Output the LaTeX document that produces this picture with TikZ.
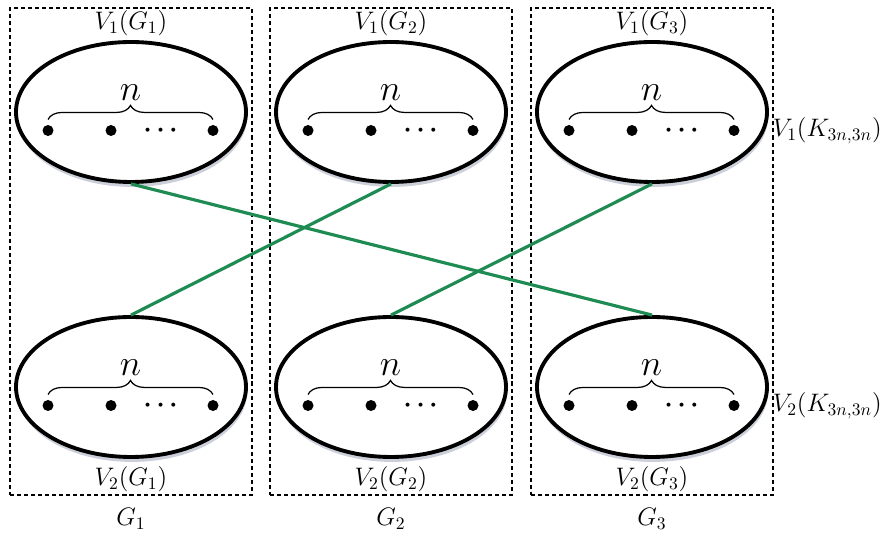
\documentclass[tikz,border=0pt]{standalone}
\usepackage{amsmath}
\usetikzlibrary{shapes.geometric, positioning, calc, decorations.pathreplacing, shadows}
\definecolor{linkgreen}{RGB}{30, 140, 82}
\definecolor{shadegray}{RGB}{140, 148, 170}

\tikzset{
  part/.style={ellipse, draw, line width=2.2pt, fill=white,
    minimum width=4.6cm, minimum height=2.8cm,
    drop shadow={shadow xshift=0.6pt, shadow yshift=-2.8pt, opacity=0.45, fill=shadegray}},
  grp/.style={draw, line width=0.6pt, dash pattern=on 2.3pt off 1.7pt,
    minimum width=4.84cm, minimum height=9.74cm},
  vert/.style={circle, fill, inner sep=0pt, minimum size=0.22cm},
  link/.style={draw=linkgreen, line width=1.8pt},
  lbl/.style={font=\Large, inner sep=1pt},
}

\begin{document}
\begin{tikzpicture}
  \useasboundingbox (0,0) rectangle (17.84,-10.78);

  % one dashed group per copy of G, two parts in each
  \foreach \i/\x in {1/2.62, 2/7.82, 3/13.04} {
    \node[grp] (g\i) at (\x,-5.03) {};
    \node[part] (a\i) at (\x,-2.24) {};
    \node[part] (b\i) at (\x,-7.74) {};
    \node[lbl, above=1pt of a\i] (a\i-name) {$V_1(G_\i)$};
    \node[lbl, below=3pt of b\i] (b\i-name) {$V_2(G_\i)$};
    \node[lbl, below=6pt of g\i] (g\i-name) {$G_\i$};
    % n vertices inside each part
    \foreach \p in {a\i, b\i} {
      \node[vert] (\p-1) at ($(\p)+(-1.66,-0.37)$) {};
      \node[vert] (\p-2) at ($(\p)+(-0.40,-0.37)$) {};
      \node[font=\Large] (\p-dots) at ($(\p)+(0.64,-0.37)$) {$\boldsymbol{\cdots}$};
      \node[vert] (\p-n) at ($(\p)+(1.64,-0.37)$) {};
      \draw[decorate, decoration={brace, amplitude=8pt}, line width=0.7pt]
        ($(\p-1)+(0,0.22)$) -- ($(\p-n)+(0,0.22)$)
        node[midway, above=7pt, font=\huge] (\p-cnt) {$n$};
    }
  }

  % sides of the bipartite graph
  \node[lbl, anchor=west, inner sep=2pt] (k1) at (a3.east |- a3-n) {$V_1(K_{3n,3n})$};
  \node[lbl, anchor=west, inner sep=2pt] (k2) at (b3.east |- b3-n) {$V_2(K_{3n,3n})$};

  % cross edges between the copies
  \draw[link] (a1.south) -- (b3.north);
  \draw[link] (a2.south) -- (b1.north);
  \draw[link] (a3.south) -- (b2.north);
\end{tikzpicture}
\end{document}
